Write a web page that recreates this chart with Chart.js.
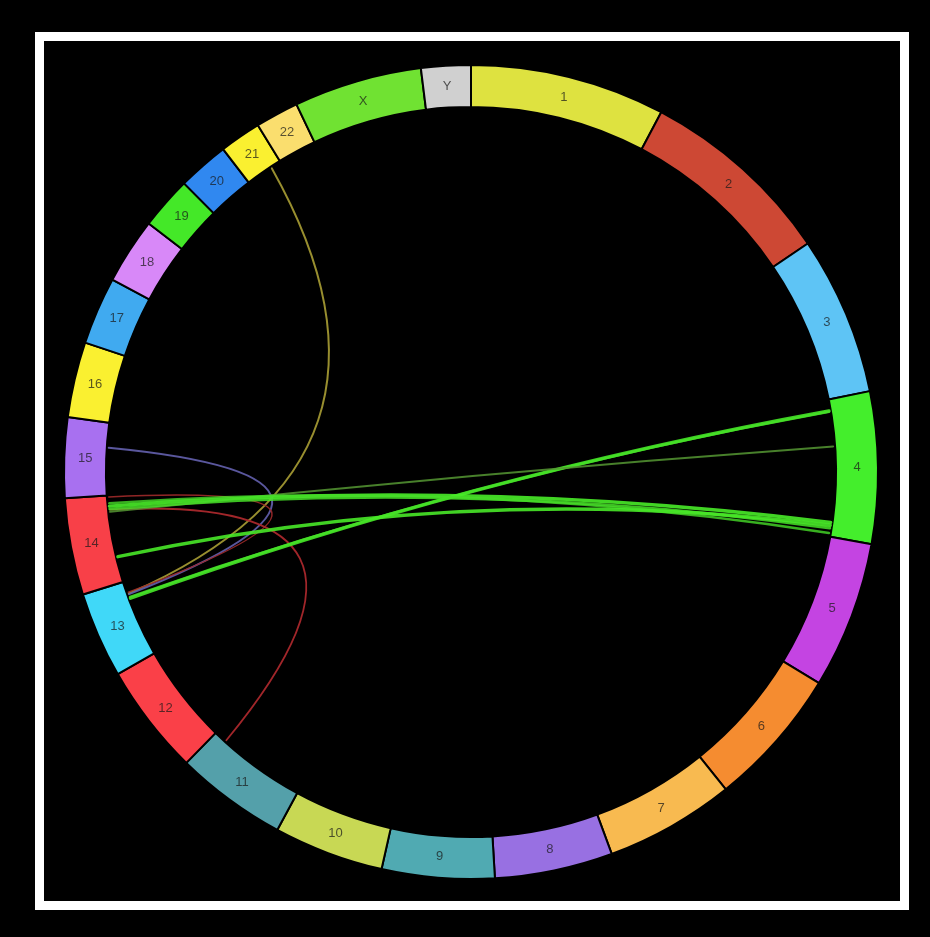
<!DOCTYPE html>
<html>
<head>
<meta charset="utf-8">
<script src="https://cdn.jsdelivr.net/npm/chart.js@4/dist/chart.umd.min.js"></script>
<style>
  html, body { margin: 0; padding: 0; background: #000; overflow: hidden; }
  canvas { display: block; }
</style>
</head>
<body>
<canvas id="circos" width="930" height="937"></canvas>
<script>
// Chromosome ring: names, lengths (Mb) and colours
const chromNames = ['1','2','3','4','5','6','7','8','9','10','11','12','13','14','15','16','17','18','19','20','21','22','X','Y'];
const chromLengths = [248, 249, 202, 193, 187, 178, 165, 150, 143, 140, 142, 141, 109, 123, 102, 96, 86, 84, 67, 65, 53, 55, 163, 63];
const chromColors = ['#dee240','#cd4834','#5ec4f5','#44ee2c','#c444e2','#f58c30','#f8ba50','#9870e2','#50aab2','#c8d854',
                     '#54a0aa','#fa4048','#40d8f8','#f84048','#a870f0','#faf030','#40aaf0','#d888f8','#44e828','#3088f0',
                     '#faf030','#fade6e','#70e232','#d0d0d0'];

// Links between chromosomes: source / target chromosome and position (Mb)
const linkSourceChrom = ['21', '15', '14', '14', '4',  '4',  '4',  '4',  '4',  '4',  '4'];
const linkSourcePos   = [ 38,   67,   103,  121,  16,   17,   66,   173,  181,  188,  177];
const linkTargetChrom = ['13', '13', '11', '13', '13', '13', '14', '14', '14', '14', '14'];
const linkTargetPos   = [ 91,   90,   124,  93,   84,   86,   100,  108,  104,  112,  36];
const linkColors = ['rgba(160,150,50,0.95)', 'rgba(95,92,165,0.95)', 'rgba(170,40,44,0.95)', 'rgba(160,42,42,0.9)',
                    'rgba(70,232,40,0.9)', 'rgba(70,225,40,0.85)', 'rgba(85,150,50,0.85)',
                    'rgba(72,235,40,0.9)', 'rgba(70,225,40,0.85)', 'rgba(70,220,40,0.8)', 'rgba(72,232,40,0.9)'];
const linkWidths = [2, 2, 1.8, 1.5, 3.5, 2.5, 2, 3.5, 3, 2.5, 3.5];

// How far the bezier control point moves from the centre towards the chord midpoint
const BEZIER_PULL = 0.13;

const framePlugin = {
  id: 'frame',
  beforeDraw(chart) {
    const ctx = chart.ctx;
    ctx.save();
    ctx.fillStyle = '#000';
    ctx.fillRect(0, 0, chart.width, chart.height);
    ctx.strokeStyle = '#ffffff';
    ctx.lineWidth = 9;
    ctx.strokeRect(39.5, 36.5, 865, 869);
    ctx.restore();
  }
};

const linksPlugin = {
  id: 'links',
  afterDatasetsDraw(chart) {
    const ctx = chart.ctx;
    const meta = chart.getDatasetMeta(0);
    const first = meta.data[0];
    const cx = first.x, cy = first.y;
    const rLink = first.innerRadius - 2;

    function anchor(name, pos) {
      const i = chromNames.indexOf(name);
      const arc = meta.data[i];
      const a = arc.startAngle + (arc.endAngle - arc.startAngle) * pos / chromLengths[i];
      return { x: cx + rLink * Math.cos(a), y: cy + rLink * Math.sin(a) };
    }

    ctx.save();
    ctx.lineCap = 'round';
    for (let k = 0; k < linkSourceChrom.length; k++) {
      const p0 = anchor(linkSourceChrom[k], linkSourcePos[k]);
      const p2 = anchor(linkTargetChrom[k], linkTargetPos[k]);
      const mx = (p0.x + p2.x) / 2, my = (p0.y + p2.y) / 2;
      const c = { x: cx + BEZIER_PULL * (mx - cx), y: cy + BEZIER_PULL * (my - cy) };
      ctx.beginPath();
      ctx.moveTo(p0.x, p0.y);
      ctx.quadraticCurveTo(c.x, c.y, p2.x, p2.y);
      ctx.strokeStyle = linkColors[k];
      ctx.lineWidth = linkWidths[k];
      ctx.stroke();
    }
    ctx.restore();

    // chromosome names, upright, in the middle of each band
    ctx.save();
    ctx.font = '13px "Liberation Sans", Arial, sans-serif';
    ctx.textAlign = 'center';
    ctx.textBaseline = 'middle';
    ctx.fillStyle = 'rgba(25,25,25,0.72)';
    meta.data.forEach((arc, i) => {
      const a = (arc.startAngle + arc.endAngle) / 2;
      const r = (arc.innerRadius + arc.outerRadius) / 2;
      ctx.fillText(chromNames[i], cx + r * Math.cos(a), cy + r * Math.sin(a));
    });
    ctx.restore();
  }
};

new Chart(document.getElementById('circos'), {
  type: 'doughnut',
  data: {
    labels: chromNames,
    datasets: [{
      data: chromLengths,
      backgroundColor: chromColors,
      borderColor: '#000000',
      borderWidth: 2
    }]
  },
  options: {
    responsive: false,
    animation: false,
    radius: 407,
    cutout: '89.7%',
    layout: { padding: { left: 12, top: 7, right: 0, bottom: 0 } },
    plugins: {
      legend: { display: false },
      tooltip: { enabled: false }
    }
  },
  plugins: [framePlugin, linksPlugin]
});
</script>
</body>
</html>
